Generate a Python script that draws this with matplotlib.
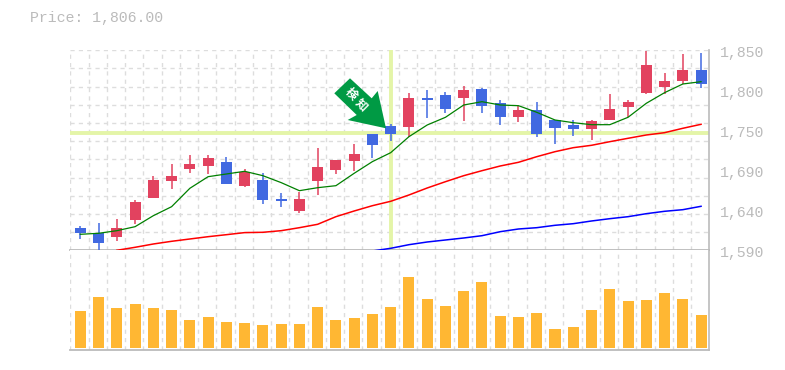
import matplotlib
matplotlib.use('Agg')
import matplotlib.pyplot as plt
import matplotlib.patches as patches
import numpy as np

plt.rcParams['font.family'] = ['Liberation Mono', 'DejaVu Sans Mono']

price_label = 'Price: 1,806.00'

opens = [1619.0, 1612.5, 1607.3, 1629.4, 1658.0, 1680.1, 1695.7, 1699.6, 1704.8, 1673.6, 1681.4, 1656.7, 1641.1,
         1680.1, 1694.4, 1706.1, 1741.2, 1751.6, 1750.3, 1788.0, 1791.9, 1788.0, 1799.7, 1781.5, 1763.3,
         1772.4, 1759.4, 1752.9, 1747.7, 1759.4, 1776.3, 1794.5, 1802.3, 1810.1, 1824.4]
closes = [1612.5, 1599.5, 1619.0, 1652.8, 1681.4, 1686.6, 1702.2, 1710.0, 1676.2, 1691.8, 1655.4, 1654.1, 1656.7,
          1698.3, 1707.4, 1715.2, 1726.9, 1741.2, 1788.0, 1785.4, 1773.7, 1798.4, 1777.6, 1763.3, 1772.4,
          1741.2, 1749.0, 1747.7, 1758.1, 1773.7, 1782.8, 1830.9, 1810.1, 1824.4, 1806.2]
highs = [1621.6, 1625.5, 1630.7, 1655.4, 1686.6, 1702.2, 1713.9, 1713.9, 1711.3, 1695.7, 1690.5, 1664.5, 1665.8,
         1723.0, 1707.4, 1728.2, 1741.2, 1754.2, 1794.5, 1798.4, 1795.8, 1803.6, 1801.0, 1785.4, 1777.6,
         1782.8, 1759.4, 1759.4, 1759.4, 1793.2, 1785.4, 1849.1, 1820.5, 1845.2, 1846.5]
lows = [1604.7, 1589.1, 1602.1, 1624.2, 1658.0, 1669.7, 1690.5, 1689.2, 1676.2, 1672.3, 1650.2, 1646.3, 1638.5,
        1661.9, 1689.2, 1693.1, 1710.0, 1732.1, 1737.3, 1762.0, 1768.5, 1758.1, 1768.5, 1752.9, 1756.8,
        1737.3, 1728.2, 1738.6, 1733.4, 1759.4, 1763.3, 1793.2, 1793.2, 1806.2, 1801.0]

ma_short = [1610.8, 1612.1, 1615.5, 1620.7, 1635.0, 1646.7, 1670.6, 1685.7, 1689.2, 1692.7, 1687.0, 1678.0, 1667.5,
            1671.4, 1674.0, 1690.1, 1705.3, 1716.9, 1737.7, 1752.9, 1762.9, 1778.9, 1783.2, 1778.9, 1778.0,
            1769.4, 1759.4, 1755.9, 1753.3, 1753.3, 1762.9, 1781.1, 1794.9, 1806.2, 1809.2]
ma_mid = [None, None, 1590.0, 1593.9, 1598.2, 1601.7, 1604.7, 1607.7, 1610.3, 1613.0, 1613.4, 1615.5, 1619.4,
          1623.8, 1633.7, 1641.1, 1648.0, 1653.7, 1661.9, 1671.0, 1679.2, 1687.0, 1693.5, 1699.6, 1704.4,
          1711.7, 1718.2, 1723.4, 1726.5, 1731.2, 1735.6, 1739.9, 1742.9, 1748.6, 1753.8]
ma_long = [None] * 16 + [1589.1, 1592.6, 1597.3, 1600.8, 1603.4, 1606.0, 1609.0, 1614.2, 1617.7,
                         1619.4, 1622.5, 1624.6, 1628.1, 1631.1, 1633.7, 1637.6, 1640.7, 1642.8, 1647.2]

volumes = [37, 51, 40, 44, 40, 38, 28, 31, 26, 25, 23, 24, 24, 41, 28, 30, 34, 41,
           71, 49, 42, 57, 66, 32, 31, 35, 19, 21, 38, 59, 47, 48, 55, 49, 33]

date_idx = [4, 9, 14, 19, 24, 29, 34]
date_labels = ['11/25', '12/2', '12/9', '12/16', '12/23', '12/30', '1/9']
price_ticks = [1850, 1798, 1746, 1694, 1642, 1590]
price_tick_labels = ['1,850', '1,800', '1,750', '1,690', '1,640', '1,590']

marked_idx = 17
marked_price = 1742

W, H = 785, 370
LEFT, RIGHT = 70.3, 709.3
GREY = '#bbbbbb'
GRID = '#dddddd'
RED = '#e2425f'
BLUE = '#4169e1'
LIME = '#e4f5a8'


def box(x0, y0, x1, y1):
    return [x0 / W, 1 - y1 / H, (x1 - x0) / W, (y1 - y0) / H]


fig = plt.figure(figsize=(7.85, 3.7), dpi=100)
ax = fig.add_axes(box(LEFT, 50.3, RIGHT, 250.3))
vol = fig.add_axes(box(LEFT, 250.3, RIGHT, 350.3))

idx = np.arange(len(opens))
slot_px = 18.235
xmin = -(80.3 - LEFT) / slot_px
xmax = xmin + 35
grid_x = xmin + np.arange(36)
cw = 11 / slot_px

for a in (ax, vol):
    a.set_xlim(xmin, xmax)
    a.set_xticks([])
    a.set_yticks([])
    for s in a.spines.values():
        s.set_visible(False)
    for g in grid_x[:-1]:
        a.axvline(g, color=GRID, lw=1.0, dashes=(3, 3), zorder=1)
    a.spines['right'].set_visible(True)
    a.spines['right'].set_color(GREY)
    a.spines['right'].set_linewidth(1.2)
    a.spines['bottom'].set_visible(True)
    a.spines['bottom'].set_color(GREY)
    a.spines['bottom'].set_linewidth(1.3)

# price panel
ax.set_ylim(1590, 1850)
for g in np.linspace(1590, 1850, 12)[1:]:
    ax.axhline(g, color=GRID, lw=1.0, dashes=(3, 3), zorder=1)

ax.axhline(marked_price, color=LIME, lw=2.8, zorder=2)
ax.axvline(marked_idx, color=LIME, lw=2.8, zorder=2)

for i in idx:
    c = RED if closes[i] >= opens[i] else BLUE
    ax.vlines(i, lows[i], highs[i], color=c, lw=1.1, zorder=3)
    ax.add_patch(patches.Rectangle(
        (i - cw / 2, min(opens[i], closes[i])),
        cw,
        abs(closes[i] - opens[i]),
        facecolor=c,
        edgecolor='none',
        zorder=3
        ))

ax.plot(idx, np.array(ma_short, dtype=float), color='#008000', lw=0.9, zorder=4)
ax.plot(idx, np.array(ma_mid, dtype=float), color='#ff0000', lw=1.1, zorder=4)
ax.plot(idx, np.array(ma_long, dtype=float), color='#0000ff', lw=1.1, zorder=4)

for p, s in zip(price_ticks, price_tick_labels):
    ax.annotate(s, (1, p), xycoords=('axes fraction', 'data'), xytext=(11, -3),
                textcoords='offset pixels', color=GREY, fontsize=10.7, ha='left', va='center',
                annotation_clip=False)

for i, s in zip(date_idx, date_labels):
    ax.annotate(s, (i, 0), xycoords=('data', 'axes fraction'), xytext=(4 if i < 34 else -1, -12),
                textcoords='offset pixels', color=GREY, fontsize=7.3, ha='center', va='center',
                annotation_clip=False)

# volume panel
vol.set_ylim(-2, 98)
vol.bar(idx, volumes, width=cw, color='#ffb733', zorder=3)

# overlay in pixels for the title and the marker arrow
over = fig.add_axes([0, 0, 1, 1])
over.set_xlim(0, W)
over.set_ylim(H, 0)
over.axis('off')
over.text(30, 18, price_label, color=GREY, fontsize=10.7, ha='left', va='center')
over.add_patch(patches.Polygon(
    [(350, 78.3), (371.7, 98.3), (377.7, 91), (386, 128.3),
     (347.7, 120), (356.7, 115), (334.3, 93.3)],
    closed=True, facecolor='#009a44', edgecolor='none', zorder=5
    ))
over.text(351, 93.5, '検', color='white', fontsize=8.5, rotation=-45, fontweight='bold',
          family=['Noto Sans CJK JP', 'DejaVu Sans'], ha='center', va='center', zorder=6)
over.text(361.5, 105, '知', color='white', fontsize=8.5, rotation=-45, fontweight='bold',
          family=['Noto Sans CJK JP', 'DejaVu Sans'], ha='center', va='center', zorder=6)

fig.savefig('out.png', dpi=100)
